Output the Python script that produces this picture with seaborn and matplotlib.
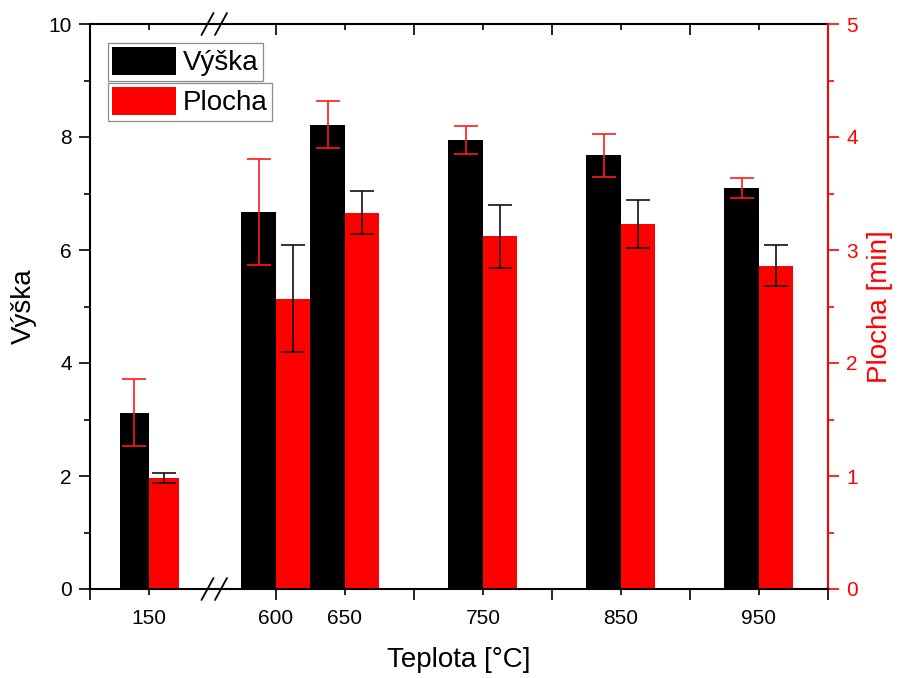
import matplotlib
matplotlib.use("Agg")
import numpy as np
import pandas as pd
import matplotlib.pyplot as plt
from matplotlib.lines import Line2D
from matplotlib.patches import Patch
import seaborn as sns

# Measured values per temperature
teplota = [150, 600, 650, 750, 850, 950]
vyska = [3.12, 6.67, 8.22, 7.95, 7.68, 7.10]
vyska_err = [0.59, 0.94, 0.41, 0.25, 0.38, 0.18]
plocha = [0.98, 2.57, 3.33, 3.12, 3.23, 2.86]
plocha_err = [0.045, 0.47, 0.19, 0.28, 0.21, 0.18]

serie = ["Výška", "Plocha"]
barvy = {"Výška": "#000000", "Plocha": "#ff0000"}

# x tick layout of the broken axis
major_l, minor_l = [100], [150]
major_r, minor_r = [600, 700, 800, 900, 1000], [650, 750, 850, 950]

sns.set_theme(style="ticks", rc={"axes.edgecolor": "black",
                                 "xtick.color": "black", "ytick.color": "black",
                                 "text.color": "black", "axes.labelcolor": "black"})
plt.rcParams["font.family"] = ["Liberation Sans", "DejaVu Sans"]

df = pd.DataFrame({
    "Teplota": teplota * 2,
    "Veličina": ["Výška"] * len(teplota) + ["Plocha"] * len(teplota),
    "hodnota": vyska + plocha,
})

W, H = 898, 678
fig = plt.figure(figsize=(W / 100, H / 100), dpi=100)


def px_axes(x0, x1, y0, y1):
    return fig.add_axes([x0 / W, 1 - y1 / H, (x1 - x0) / W, (y1 - y0) / H])


axL = px_axes(90, 215, 24, 589)
axR = px_axes(215, 828, 24, 589)
axL2 = axL.twinx()
axR2 = axR.twinx()

LW = 1.5


def bar_centres(ax):
    rects = [r for c in ax.containers for r in c]
    rects = sorted(rects, key=lambda r: r.get_x())
    return [r.get_x() + r.get_width() / 2 for r in rects]


for ax, ax2 in ((axL, axL2), (axR, axR2)):
    sns.barplot(data=df[df["Veličina"] == "Výška"], x="Teplota", y="hodnota",
                hue="Veličina", hue_order=serie, palette=barvy, saturation=1,
                native_scale=True, width=1.0, dodge=True, errorbar=None,
                legend=False, linewidth=0, ax=ax)
    sns.barplot(data=df[df["Veličina"] == "Plocha"], x="Teplota", y="hodnota",
                hue="Veličina", hue_order=serie, palette=barvy, saturation=1,
                native_scale=True, width=1.0, dodge=True, errorbar=None,
                legend=False, linewidth=0, ax=ax2)
    ax.errorbar(bar_centres(ax), vyska, yerr=vyska_err, fmt="none",
                ecolor="#ff1a1a", elinewidth=1.2, capsize=8.6, capthick=1.2)
    ax2.errorbar(bar_centres(ax2), plocha, yerr=plocha_err, fmt="none",
                 ecolor="#111111", elinewidth=1.2, capsize=8.6, capthick=1.2)
    ax.set_ylim(0, 10)
    ax2.set_ylim(0, 5)
    ax.set_xlabel("")
    ax.set_ylabel("")
    ax2.set_ylabel("")
    for s in ax.spines.values():
        s.set_visible(False)
    for s in ax2.spines.values():
        s.set_visible(False)
    ax2.spines["bottom"].set_visible(True)
    ax2.spines["bottom"].set_linewidth(LW)
    ax2.spines["bottom"].set_color("black")

axL.set_xlim(100, 205.9)
axR.set_xlim(555.8, 1000)

# bottom ticks
axL.set_xticks(major_l, labels=[""] * len(major_l))
axL.set_xticks(minor_l, labels=[str(t) for t in minor_l], minor=True)
axR.set_xticks(major_r, labels=["600", "", "", "", ""])
axR.set_xticks(minor_r, labels=[str(t) for t in minor_r], minor=True)
for ax in (axL, axR):
    ax.tick_params(axis="x", which="major", direction="out", length=8, width=1.2,
                   labelsize=15, pad=6.5)
    ax.tick_params(axis="x", which="minor", direction="out", length=4.3, width=1.2,
                   labelsize=15, pad=10.2)
    top = ax.secondary_xaxis("top")
    top.set_xticks(major_l if ax is axL else major_r, labels=[])
    top.set_xticks(minor_l if ax is axL else minor_r, labels=[], minor=True)
    top.tick_params(which="major", direction="in", length=8, width=1.2)
    top.tick_params(which="minor", direction="in", length=4.3, width=1.2)
    top.spines["top"].set_linewidth(LW)

axL.spines["left"].set_visible(True)
axL.spines["left"].set_linewidth(LW)
axL.set_yticks(range(0, 11, 2))
axL.set_yticks(range(1, 10, 2), minor=True)
axL.tick_params(axis="y", which="major", direction="out", length=8, width=1.2,
                labelsize=15, pad=5)
axL.tick_params(axis="y", which="minor", direction="out", length=4, width=1.2)
axL.set_ylabel("Výška", fontsize=20)
axL.yaxis.set_label_coords((24 - 90) / 125, 0.5)
axL.yaxis.label.set_verticalalignment("center")
axL2.yaxis.set_visible(False)
axR.tick_params(axis="y", which="both", left=False, labelleft=False)

axR2.spines["right"].set_visible(True)
axR2.spines["right"].set_linewidth(LW)
axR2.spines["right"].set_color("red")
axR2.set_yticks(range(0, 6))
axR2.set_yticks(np.arange(0.5, 5, 1.0), minor=True)
axR2.tick_params(axis="y", which="major", direction="out", length=8, width=1.2,
                 labelsize=15, pad=5, colors="red")
axR2.tick_params(axis="y", which="minor", direction="out", length=4.3, width=1.2,
                 colors="red")
axR2.set_ylabel("Plocha [min]", fontsize=20, color="red")
axR2.yaxis.set_label_coords((880 - 215) / 613, 0.5)
axR2.yaxis.label.set_verticalalignment("center")

fig.text(459 / W, 1 - 660 / H, "Teplota [°C]", ha="center", va="center", fontsize=20)

# axis break marks
for yc in (24, 589):
    for xc in (207.5, 221.0):
        fig.add_artist(Line2D([(xc - 6) / W, (xc + 6) / W],
                              [1 - (yc + 11) / H, 1 - (yc - 11) / H],
                              transform=fig.transFigure, color="black", lw=1.3))

# two stacked, separately framed legends
leg_kw = dict(loc="upper left", bbox_transform=fig.transFigure, fontsize=20,
              frameon=True, fancybox=False, framealpha=1, edgecolor="#8c8c8c",
              borderpad=0.15, borderaxespad=0, handlelength=2.3, handleheight=1.15,
              handletextpad=0.25)
leg1 = axR2.legend(handles=[Patch(facecolor="black", edgecolor="none", label="Výška")],
                   bbox_to_anchor=(108 / W, 1 - 43 / H), **leg_kw)
leg1.get_frame().set_linewidth(0.9)
axR2.add_artist(leg1)
leg2 = axR2.legend(handles=[Patch(facecolor="red", edgecolor="none", label="Plocha")],
                   bbox_to_anchor=(108 / W, 1 - 83 / H), **leg_kw)
leg2.get_frame().set_linewidth(0.9)

fig.savefig("out.png", dpi=100)
